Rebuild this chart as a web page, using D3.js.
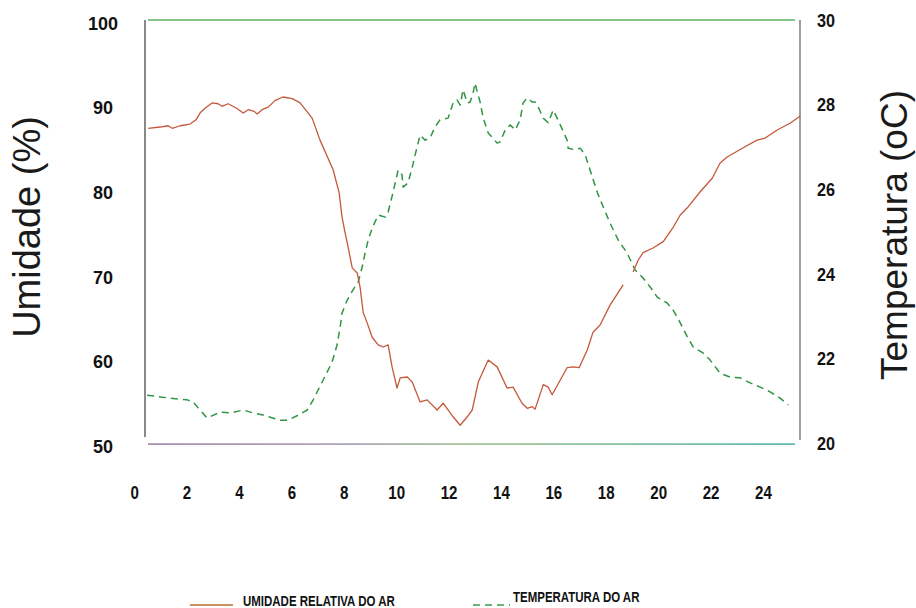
<!DOCTYPE html>
<html>
<head>
<meta charset="utf-8">
<script src="https://cdn.jsdelivr.net/npm/d3@7"></script>
<style>
  html, body { margin: 0; padding: 0; background: #ffffff; }
  svg { display: block; font-family: "Liberation Sans", Arial, sans-serif; }
</style>
</head>
<body>
<svg id="chart" width="916" height="608"></svg>
<script>
// ---- data (hours, values) ----
const humHours = [0.42,0.88,1.18,1.34,1.64,2.02,2.25,2.40,2.60,2.86,3.09,3.24,3.47,3.78,4.05,4.24,4.47,4.58,4.77,5.00,5.27,5.57,5.92,6.22,6.68,6.98,7.48,7.71,7.82,7.94,8.05,8.21,8.40,8.51,8.63,8.78,8.97,9.20,9.39,9.58,9.73,9.92,10.04,10.31,10.50,10.80,11.07,11.45,11.68,12.06,12.33,12.60,12.79,13.02,13.40,13.74,14.12,14.35,14.69,14.89,15.08,15.19,15.50,15.69,15.84,16.15,16.41,16.64,16.87,17.18,17.40,17.67,18.05,18.55,18.74,18.93,19.12,19.31,19.69,20.08,20.46,20.73,21.00,21.49,21.95,22.25,22.52,23.13,23.66,23.97,24.43,24.92,25.31];
const humValues = [87.2,87.35,87.5,87.2,87.5,87.7,88.2,89.0,89.6,90.2,90.1,89.8,90.1,89.6,89.0,89.4,89.2,88.9,89.4,89.7,90.5,90.9,90.7,90.2,88.4,85.8,82.3,79.6,76.7,74.8,73.2,70.7,70.1,68.4,65.4,64.2,62.5,61.6,61.35,61.6,59.0,56.5,57.7,57.8,57.2,54.85,55.1,53.9,54.7,53.1,52.1,53.1,53.9,57.2,59.8,59.0,56.5,56.6,54.7,54.1,54.3,54.0,56.9,56.6,55.7,57.45,58.9,59.0,58.9,61.0,63.1,63.95,66.3,68.7,null,70.2,71.6,72.5,73.05,73.8,75.5,76.95,77.8,79.7,81.3,83.1,83.8,84.9,85.8,86.05,87.0,87.8,88.65];

const tempHours = [0.38,0.88,1.26,1.91,2.14,2.33,2.67,3.17,3.55,4.05,4.43,4.81,5.46,5.76,6.15,6.49,6.72,7.10,7.44,7.63,7.75,7.82,8.02,8.24,8.44,8.59,8.70,8.82,8.97,9.20,9.47,9.58,9.77,9.96,10.11,10.15,10.34,10.50,10.61,10.80,10.99,11.18,11.37,11.56,11.87,12.06,12.21,12.33,12.44,12.60,12.71,12.82,12.90,12.98,13.09,13.21,13.40,13.74,13.85,14.05,14.24,14.43,14.62,14.73,14.89,15.08,15.19,15.31,15.50,15.69,15.88,16.03,16.15,16.41,16.45,16.72,16.91,17.10,17.29,17.56,17.79,18.05,18.36,18.70,19.01,19.31,19.58,19.85,20.23,20.46,20.73,21.00,21.22,21.60,21.87,22.25,22.63,23.02,23.40,23.78,24.16,24.54,24.85];
const tempValues = [21.13,21.09,21.06,21.02,20.97,20.83,20.59,20.73,20.71,20.78,20.71,20.66,20.54,20.54,20.66,20.78,21.02,21.49,21.91,22.32,22.74,23.07,23.38,23.62,23.81,24.16,24.49,24.80,25.08,25.39,25.34,25.46,25.93,26.45,26.34,26.05,26.15,26.52,26.81,27.28,27.16,27.21,27.47,27.64,27.68,28.04,28.11,27.99,28.35,28.04,28.06,28.27,28.51,28.30,28.06,27.68,27.33,27.09,27.12,27.40,27.52,27.40,27.64,28.04,28.16,28.06,28.06,27.94,27.68,27.57,27.87,27.68,27.52,27.16,26.97,26.93,26.97,26.81,26.45,25.93,25.58,25.20,24.80,24.49,24.09,23.90,23.69,23.45,23.31,23.14,22.84,22.51,22.27,22.13,21.96,21.65,21.56,21.54,21.42,21.32,21.21,21.06,20.90];

const xTicks = [0,2,4,6,8,10,12,14,16,18,20,22,24];
const humTicks = [50,60,70,80,90,100];
const tempTicks = [20,22,24,26,28,30];

const humLabel = "Umidade (%)";
const tempLabel = "Temperatura (oC)";
const legendLabels = ["UMIDADE RELATIVA DO AR", "TEMPERATURA DO AR"];

// ---- layout ----
const svg = d3.select("#chart");
const plotLeft = 145, plotRight = 800, plotTop = 20, plotBottom = 443;

const x = d3.scaleLinear().domain([0.3, 25.3]).range([plotLeft, plotRight]);
const yH = d3.scaleLinear().domain([50, 100]).range([plotBottom, plotTop]);
const yT = d3.scaleLinear().domain([20, 30]).range([plotBottom, plotTop]);

const humColor = "#c5583b";
const tempColor = "#2f9444";
const font = '"Liberation Sans", Arial, sans-serif';

// gradient for bottom line
const defs = svg.append("defs");
const grad = defs.append("linearGradient").attr("id", "baseGrad")
  .attr("x1", "0%").attr("x2", "100%").attr("y1", "0%").attr("y2", "0%");
grad.append("stop").attr("offset", "0%").attr("stop-color", "#9c86a8");
grad.append("stop").attr("offset", "30%").attr("stop-color", "#a59ab0");
grad.append("stop").attr("offset", "50%").attr("stop-color", "#9fbf8f");
grad.append("stop").attr("offset", "100%").attr("stop-color", "#4fb3a6");

// frame lines
svg.append("line").attr("x1", 148).attr("x2", 795).attr("y1", yT(30)).attr("y2", yT(30))
  .attr("stroke", "#5bb35d").attr("stroke-width", 1.4);
svg.append("rect").attr("x", 148).attr("width", 647).attr("y", yT(20) + 0.3).attr("height", 1.6)
  .attr("fill", "url(#baseGrad)");
svg.append("line").attr("x1", plotLeft).attr("x2", plotLeft).attr("y1", plotTop).attr("y2", 437)
  .attr("stroke", "#4a4a4a").attr("stroke-width", 1.3);
svg.append("line").attr("x1", plotRight).attr("x2", plotRight).attr("y1", plotTop).attr("y2", 440)
  .attr("stroke", "#6c6c6c").attr("stroke-width", 1.3);

// axes (text only)
const axL = svg.append("g").attr("transform", "translate(103,0)")
  .call(d3.axisLeft(yH).tickValues(humTicks).tickSize(0).tickPadding(0).tickFormat(d3.format("d")));
axL.select(".domain").remove();
axL.selectAll("text").attr("x", 0).attr("y", 3).attr("dy", "0.35em")
  .attr("text-anchor", "middle").attr("font-size", 18).attr("font-weight", "bold")
  .attr("font-family", font).attr("fill", "#111");

const axR = svg.append("g").attr("transform", "translate(826,0)")
  .call(d3.axisRight(yT).tickValues(tempTicks).tickSize(0).tickPadding(0).tickFormat(d3.format("d")));
axR.select(".domain").remove();
axR.selectAll("text").attr("x", 0).attr("y", 0).attr("dy", "0.35em")
  .attr("text-anchor", "middle").attr("font-size", 18).attr("font-weight", "bold")
  .attr("font-family", font).attr("fill", "#111").attr("transform", "scale(0.9,1)");

const axB = svg.append("g").attr("transform", "translate(-3,499)")
  .call(d3.axisBottom(x).tickValues(xTicks).tickSize(0).tickPadding(0).tickFormat(d3.format("d")));
axB.select(".domain").remove();
axB.selectAll("text").attr("y", 0).attr("dy", 0)
  .attr("text-anchor", "middle").attr("font-size", 18).attr("font-weight", "bold")
  .attr("font-family", font).attr("fill", "#111").attr("transform", "scale(0.84,1)");

// axis titles
svg.append("text").attr("transform", "translate(40,227) rotate(-90)")
  .attr("text-anchor", "middle").attr("font-size", 38).attr("font-family", font)
  .attr("fill", "#1a1a1a").text(humLabel);
svg.append("text").attr("transform", "translate(907,235) rotate(-90)")
  .attr("text-anchor", "middle").attr("font-size", 37).attr("font-family", font)
  .attr("fill", "#1a1a1a").text(tempLabel);

// series
const humData = humHours.map((h, i) => ({ h, v: humValues[i] }));
const tempData = tempHours.map((h, i) => ({ h, v: tempValues[i] }));

const humLine = d3.line().defined(d => d.v !== null).x(d => x(d.h)).y(d => yH(d.v));
const tempLine = d3.line().x(d => x(d.h)).y(d => yT(d.v));

svg.append("path").datum(tempData).attr("d", tempLine)
  .attr("fill", "none").attr("stroke", tempColor).attr("stroke-width", 1.5)
  .attr("stroke-dasharray", "7,5").attr("stroke-linejoin", "round");
svg.append("path").datum(humData).attr("d", humLine)
  .attr("fill", "none").attr("stroke", humColor).attr("stroke-width", 1.3)
  .attr("stroke-linejoin", "round");

// legend
svg.append("line").attr("x1", 190).attr("x2", 233).attr("y1", 605).attr("y2", 605)
  .attr("stroke", "#c9935f").attr("stroke-width", 2);
svg.append("text").attr("transform", "translate(243,606) scale(0.82,1)")
  .attr("font-size", 14).attr("font-weight", "bold").attr("font-family", font)
  .attr("fill", "#111").text(legendLabels[0]);
svg.append("line").attr("x1", 473).attr("x2", 510).attr("y1", 605).attr("y2", 605)
  .attr("stroke", "#3a9e4c").attr("stroke-width", 1.5).attr("stroke-dasharray", "7,5");
svg.append("text").attr("transform", "translate(513,602) scale(0.82,1)")
  .attr("font-size", 14).attr("font-weight", "bold").attr("font-family", font)
  .attr("fill", "#111").text(legendLabels[1]);
</script>
</body>
</html>
